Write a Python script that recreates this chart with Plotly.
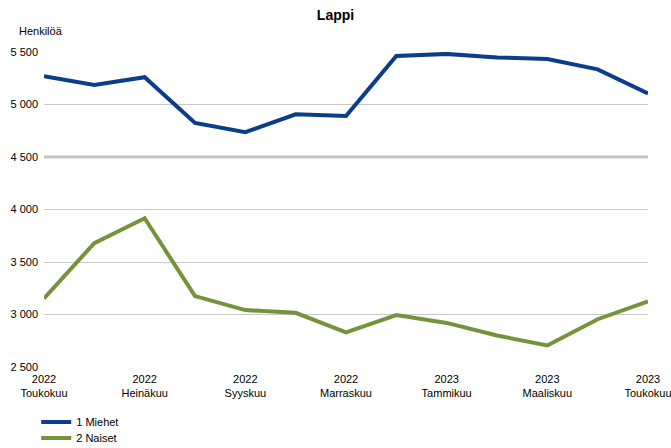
import plotly.graph_objects as go

months = ["2022 Toukokuu", "2022 Kesäkuu", "2022 Heinäkuu", "2022 Elokuu", "2022 Syyskuu",
          "2022 Lokakuu", "2022 Marraskuu", "2022 Joulukuu", "2023 Tammikuu", "2023 Helmikuu",
          "2023 Maaliskuu", "2023 Huhtikuu", "2023 Toukokuu"]
miehet = [5270, 5185, 5260, 4825, 4737, 4907, 4890, 5463, 5482, 5448, 5433, 5335, 5105]
naiset = [3153, 3680, 3917, 3175, 3042, 3016, 2830, 2995, 2920, 2800, 2705, 2955, 3125]
tick_months = ["2022 Toukokuu", "2022 Heinäkuu", "2022 Syyskuu", "2022 Marraskuu",
               "2023 Tammikuu", "2023 Maaliskuu", "2023 Toukokuu"]
tick_text = ["2022<br>Toukokuu", "2022<br>Heinäkuu", "2022<br>Syyskuu", "2022<br>Marraskuu",
             "2023<br>Tammikuu", "2023<br>Maaliskuu", "2023<br>Toukokuu"]
y_ticks = [2500, 3000, 3500, 4000, 4500, 5000, 5500]

font = "Liberation Sans, Arial, sans-serif"

fig = go.Figure()
fig.add_trace(go.Scatter(x=months, y=miehet, mode="lines", name="1 Miehet", legend="legend",
                         line=dict(color="#0a3d8a", width=4)))
fig.add_trace(go.Scatter(x=months, y=naiset, mode="lines", name="2 Naiset", legend="legend2",
                         line=dict(color="#76933c", width=4)))

fig.add_shape(type="line", xref="paper", yref="y", x0=0, x1=1, y0=4500, y1=4500,
              line=dict(color="#bfbfbf", width=3), layer="below")

leg_common = dict(orientation="v", xref="container", yref="container", x=0.054, xanchor="left",
                  yanchor="middle", font=dict(family=font, size=11), itemwidth=30,
                  bgcolor="rgba(0,0,0,0)", borderwidth=0)

fig.update_layout(
    width=671, height=448,
    margin=dict(l=44, r=23, t=52, b=81, autoexpand=False),
    paper_bgcolor="white", plot_bgcolor="white",
    separators=", ",
    font=dict(family=font, size=11, color="#000000"),
    title=dict(text="<b>Lappi</b>", x=0.5, xanchor="center", y=0.978, yanchor="top",
               pad=dict(t=0, b=0), font=dict(family=font, size=14, color="#000000")),
    showlegend=True,
    legend=dict(y=1 - 422 / 448, **leg_common),
    legend2=dict(y=1 - 438 / 448, **leg_common),
    xaxis=dict(type="category", categoryorder="array", categoryarray=months,
               range=[0, 12], tickmode="array", tickvals=tick_months, ticktext=tick_text,
               showgrid=False, zeroline=False, showline=False, ticks="", automargin=False,
               ticklabelstandoff=4, tickfont=dict(family=font, size=11)),
    yaxis=dict(range=[2500, 5500], tickmode="array", tickvals=y_ticks, tickformat=",d",
               showgrid=True, gridcolor="#c8c8c8", gridwidth=1, zeroline=False, automargin=False,
               ticklabelstandoff=5, showline=False, ticks="", tickfont=dict(family=font, size=11)),
    annotations=[dict(text="Henkilöä", xref="paper", yref="paper", x=-0.045, y=1.04,
                      xanchor="left", yanchor="bottom", showarrow=False,
                      font=dict(family=font, size=11))],
)

fig.write_html("out.html", config={"displayModeBar": False},
               post_script="document.body.style.margin='0';")
